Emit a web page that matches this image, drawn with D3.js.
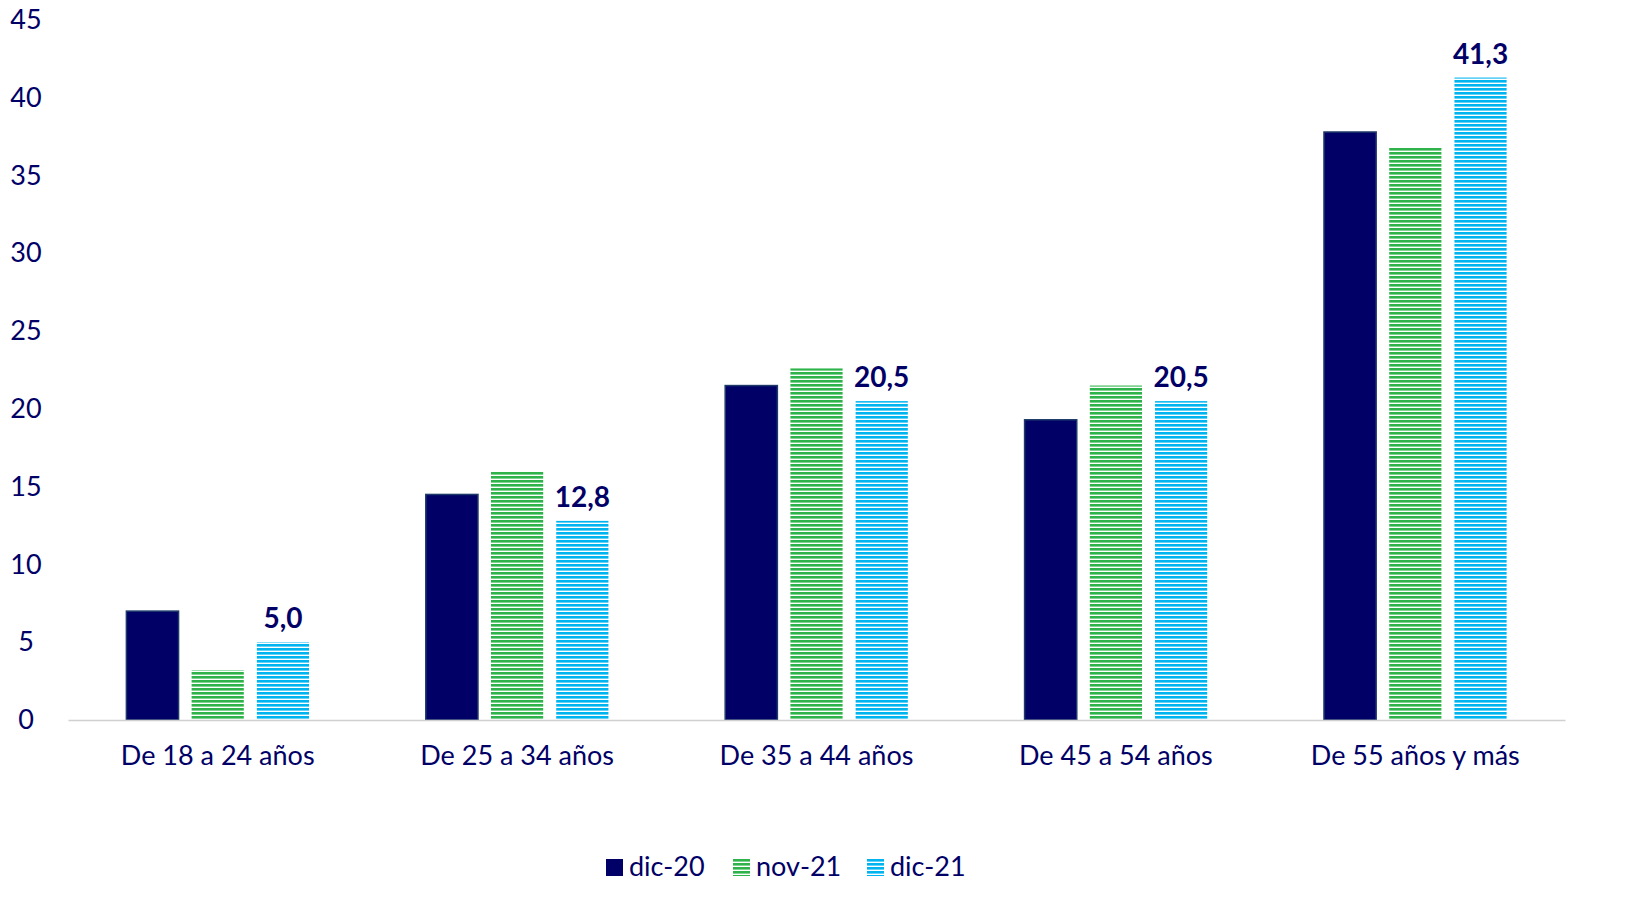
<!DOCTYPE html>
<html lang="es">
<head>
<meta charset="UTF-8">
<script src="https://d3js.org/d3.v7.min.js"></script>
<style>
  body { margin: 0; background: #fff; font-family: Lato, 'Open Sans', sans-serif; }
</style>
</head>
<body>
<div id="chart"></div>
<script>
const categories = ['De 18 a 24 años', 'De 25 a 34 años', 'De 35 a 44 años', 'De 45 a 54 años', 'De 55 años y más'];
const seriesNames = ['dic-20', 'nov-21', 'dic-21'];
const dic20 = [7.0, 14.5, 21.5, 19.3, 37.8];
const nov21 = [3.2, 16.0, 22.6, 21.5, 36.8];
const dic21 = [5.0, 12.8, 20.5, 20.5, 41.3];
const yTicks = [0, 5, 10, 15, 20, 25, 30, 35, 40, 45];

const W = 1642, H = 923;
const m = { left: 68, right: 77, top: 20, bottom: 203 };
const navy = '#000066';

const svg = d3.select('#chart').append('svg').attr('width', W).attr('height', H);
const defs = svg.append('defs');
function stripes(id, color) {
  const p = defs.append('pattern').attr('id', id).attr('patternUnits', 'userSpaceOnUse')
    .attr('width', 8).attr('height', 4);
  p.append('rect').attr('width', 8).attr('height', 4).attr('fill', '#fff');
  p.append('rect').attr('width', 8).attr('height', 2.6).attr('fill', color);
}
stripes('pGreen', '#2db34a');
stripes('pBlue', '#00b4f0');
const fills = [navy, 'url(#pGreen)', 'url(#pBlue)'];
const series = [dic20, nov21, dic21];

const x = d3.scaleBand().domain(categories).range([m.left, W - m.right]);
const xs = d3.scaleBand().domain(seriesNames).range([x.bandwidth() * 0.195, x.bandwidth() * 0.805]).paddingInner(0.2);
const y = d3.scaleLinear().domain([0, 45]).range([H - m.bottom, m.top]);

const yAxis = svg.append('g').attr('transform', `translate(${m.left - 42},0)`)
  .call(d3.axisLeft(y).tickValues(yTicks).tickSize(0).tickPadding(0));
yAxis.select('.domain').remove();
yAxis.selectAll('text').attr('fill', navy).attr('font-size', 27).attr('text-anchor', 'middle').attr('font-family', 'Lato, sans-serif');

seriesNames.forEach((s, si) => {
  svg.append('g').selectAll('rect').data(series[si]).join('rect')
    .attr('x', (d, i) => x(categories[i]) + xs(s))
    .attr('width', xs.bandwidth())
    .attr('y', d => y(d))
    .attr('height', d => y(0) - y(d))
    .attr('fill', fills[si])
    .attr('stroke', si === 0 ? '#1f3a6a' : 'none')
    .attr('stroke-width', 1.5);
});

svg.append('g').selectAll('text').data(dic21).join('text')
  .attr('x', (d, i) => x(categories[i]) + xs('dic-21') + xs.bandwidth() / 2)
  .attr('y', d => y(d) - 14)
  .attr('text-anchor', 'middle').attr('fill', navy)
  .attr('font-size', 28).attr('font-weight', 'bold')
  .text(d => d.toFixed(1).replace('.', ','));

const xAxis = svg.append('g').attr('transform', `translate(0,${y(0)})`)
  .call(d3.axisBottom(x).tickSize(0).tickPadding(26));
xAxis.select('.domain').attr('stroke', '#d0d0d0').attr('stroke-width', 1.5);
xAxis.selectAll('text').attr('fill', navy).attr('font-size', 27).attr('font-family', 'Lato, sans-serif');

const legend = svg.append('g').attr('transform', 'translate(606,867)');
const legX = [0, 127, 261];
seriesNames.forEach((s, i) => {
  const g = legend.append('g').attr('transform', `translate(${legX[i]},0)`);
  g.append('rect').attr('x', 0).attr('y', -8).attr('width', 17).attr('height', 17).attr('fill', fills[i]);
  g.append('text').attr('x', 23).attr('y', 0).attr('dy', '0.35em').attr('fill', navy)
    .attr('font-size', 27).text(s);
});
</script>
</body>
</html>
